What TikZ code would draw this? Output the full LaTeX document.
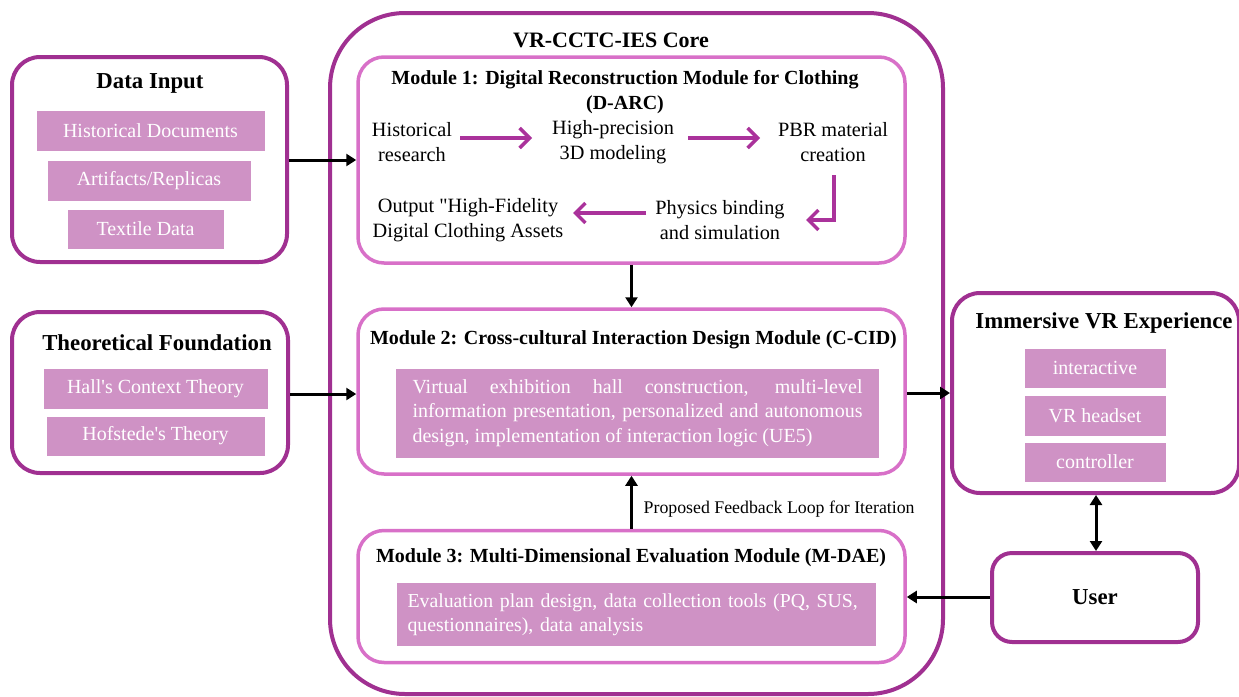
\documentclass[tikz,border=0pt]{standalone}
\usepackage{fontspec}
\setmainfont{Liberation Serif}[Ligatures=TeXOff, BoldFont={Liberation Serif Bold}]
\usetikzlibrary{arrows.meta}
\definecolor{outerc}{RGB}{160,48,145}
\definecolor{modc}{RGB}{216,112,200}
\definecolor{pinkc}{RGB}{207,146,197}
\definecolor{arrc}{RGB}{170,50,155}
\tikzset{
  groupbox/.style={draw=outerc, line width=4pt, rounded corners=28pt, fill=white},
  modbox/.style={draw=modc, line width=3.5pt, rounded corners=26pt, fill=white},
  pinkbox/.style={fill=pinkc, draw=white, line width=0.8pt, text=white, font=\fontsize{20}{24}\selectfont, inner sep=0pt},
  gtitle/.style={font=\fontsize{22.8}{26}\selectfont\bfseries, inner sep=0pt},
  mtitle/.style={font=\fontsize{20}{24.5}\selectfont\bfseries, inner sep=0pt, align=center},
  steptext/.style={font=\fontsize{20.3}{25}\selectfont, align=center, inner sep=0pt},
  parr/.style={draw=arrc, line width=3.5pt, -{Straight Barb[length=10pt,width=20pt,line width=3.5pt]}},
  barr/.style={draw=black, line width=3pt, -{Triangle[length=10pt,width=12pt]}},
}
\begin{document}
\begin{tikzpicture}[x=1pt,y=-1pt]
\useasboundingbox (0,0) rectangle (1239,696);
% Core
\node[draw=outerc, line width=4pt, rounded corners=75pt, minimum width=613pt, minimum height=681pt] (core) at (636.5,353.5) {};
\node[gtitle, font=\fontsize{22}{26}\selectfont\bfseries] (coret) at (611,40) {VR-CCTC-IES Core};

% Data input
\node[groupbox, minimum width=275pt, minimum height=205pt] (data) at (149.5,159.5) {};
\node[gtitle] (datat) at (150,83) {Data Input};
\node[pinkbox, minimum width=229pt, minimum height=41pt] (d1) at (150.5,130.5) {Historical Documents};
\node[pinkbox, minimum width=204pt, minimum height=41pt] (d2) at (149,180.5) {Artifacts/Replicas};
\node[pinkbox, minimum width=157pt, minimum height=40pt] (d3) at (145.5,229) {Textile Data};

% Theoretical foundation
\node[groupbox, minimum width=276pt, minimum height=161pt] (theo) at (150,392.5) {};
\node[gtitle] (theot) at (157,343) {Theoretical Foundation};
\node[pinkbox, minimum width=225pt, minimum height=41pt] (t1) at (155.5,388.5) {Hall's Context Theory};
\node[pinkbox, minimum width=219pt, minimum height=40pt] (t2) at (155.5,436) {Hofstede's Theory};

% Module 1
\node[modbox, minimum width=547pt, minimum height=206pt] (m1) at (631.5,160) {};
\node[mtitle] (m1t) at (625,92) {Module 1: Digital Reconstruction Module for Clothing\\(D-ARC)};
\node[steptext] (s1) at (412,142.5) {Historical\\research};
\node[steptext] (s2) at (613,142.5) {High-precision\\3D modeling};
\node[steptext] (s3) at (833,142.5) {PBR material\\creation};
\node[steptext] (s4) at (720,220.5) {Physics binding\\and simulation};
\node[steptext] (s5) at (468,220.5) {Output "High-Fidelity\\Digital Clothing Assets};
\coordinate (e1) at (834,175);
\coordinate (e2) at (834,220);
\coordinate (e3) at (806,220);
\draw[parr] (s1.east |- 0,138) ++(8,0) -- (532,138);
\draw[parr] (688,138) -- (760,138);
\draw[parr] (e1) -- (e2) -- (e3);
\draw[parr] (646,213) -- (573,213);

% Module 2
\node[modbox, minimum width=547pt, minimum height=165pt] (m2) at (631.5,391.5) {};
\node[mtitle] (m2t) at (633.5,340) {Module 2: Cross-cultural Interaction Design Module (C-CID)};
\node[pinkbox, minimum width=484pt, minimum height=90pt, text width=450pt, align=justify, font=\fontsize{20}{24.5}\selectfont] (m2b) at (637.5,413) {Virtual exhibition hall construction, multi-level\linebreak information presentation, personalized and autonomous\linebreak design, implementation of interaction logic (UE5)};

% Module 3
\node[modbox, minimum width=547pt, minimum height=132pt] (m3) at (631.5,596.5) {};
\node[mtitle] (m3t) at (631,558) {Module 3: Multi-Dimensional Evaluation Module (M-DAE)};
\node[pinkbox, minimum width=480pt, minimum height=64pt, text width=458pt, inner xsep=11pt, align=left, font=\fontsize{19.8}{24}\selectfont] (m3b) at (636.5,614.5) {Evaluation plan design, data collection tools (PQ, SUS,\\questionnaires), data analysis};

% Immersive
\node[groupbox, minimum width=287pt, minimum height=200pt] (imm) at (1095.5,393) {};
\node[gtitle] (immt) at (1104,323) {Immersive VR Experience};
\node[pinkbox, minimum width=142pt, minimum height=40pt] (i1) at (1095,368) {interactive};
\node[pinkbox, minimum width=142pt, minimum height=41pt] (i2) at (1095,415.5) {VR headset};
\node[pinkbox, minimum width=142pt, minimum height=40pt] (i3) at (1095,462) {controller};

% User
\node[groupbox, rounded corners=20pt, minimum width=206pt, minimum height=89pt, font=\fontsize{22.8}{26}\selectfont\bfseries] (user) at (1095,597.5) {User};

% Connectors
\draw[barr] (data.east |- 0,160) -- (m1.west |- 0,160);
\draw[barr] (theo.east |- 0,394) -- (m2.west |- 0,394);
\draw[barr] (m1.south) -- (m2.north);
\draw[barr] (m3.north) -- (m2.south);
\node[anchor=west, font=\fontsize{17.8}{21}\selectfont, inner sep=0pt] (fb) at (643.5,509) {Proposed Feedback Loop for Iteration};
\draw[barr] (m2.east |- 0,393) -- (imm.west |- 0,393);
\draw[barr, {Triangle[length=10pt,width=12pt]}-{Triangle[length=10pt,width=12pt]}] (imm.south -| 1096,0) -- (user.north -| 1096,0);
\draw[barr] (user.west |- 0,597) -- (m3.east |- 0,597);
\end{tikzpicture}
\end{document}
